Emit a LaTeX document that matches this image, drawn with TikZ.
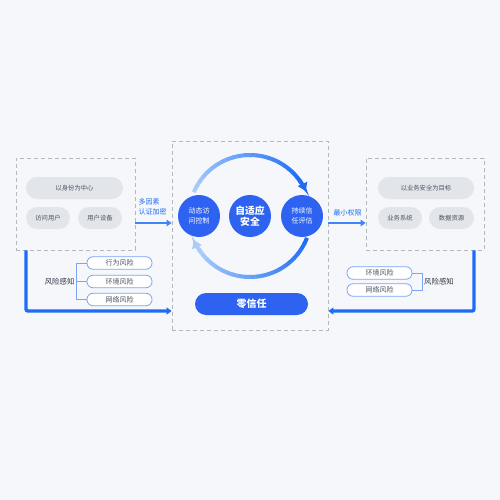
\documentclass[tikz,border=0pt]{standalone}
\usepackage{fontspec}
\setmainfont{Noto Sans CJK SC}
\usetikzlibrary{arrows.meta,calc}
\definecolor{cbg}{HTML}{F5F7FA}
\definecolor{cdash}{HTML}{B3B7C0}
\definecolor{cpill}{HTML}{E2E5EA}
\definecolor{cgrey}{HTML}{4C5260}
\definecolor{cdark}{HTML}{2F3542}
\definecolor{cblue}{HTML}{2D63F0}
\definecolor{cline}{HTML}{1E6CF5}
\definecolor{clight}{HTML}{A9CCFA}
\definecolor{crisk}{HTML}{7BA5F6}

\begin{document}
\begin{tikzpicture}[x=1pt,y=-1pt,
  zone/.style={draw=cdash,dash pattern=on 4pt off 3pt,line width=0.8pt,inner sep=0pt},
  pill/.style={fill=cpill,rounded corners=11pt,minimum height=22pt,inner sep=0pt,
    text=cgrey,font=\fontsize{6.3}{8}\selectfont},
  core/.style={circle,fill=cblue,minimum size=42pt,inner sep=0pt,text=white,align=center,
    font=\fontsize{7}{10}\selectfont},
  risk/.style={draw=crisk,line width=0.8pt,fill=white,rounded corners=6pt,minimum width=65pt,
    minimum height=12.5pt,inner sep=0pt,text=cgrey,font=\fontsize{7}{8}\selectfont},
  link/.style={line width=2.6pt,color=cline!75!clight,-{Triangle[length=5pt,width=6.5pt]}},
  feed/.style={line width=3.4pt,color=cline,rounded corners=2pt,-{Triangle[length=5pt,width=7pt]}},
  brk/.style={draw=crisk,line width=0.8pt},
  tag/.style={font=\fontsize{7}{10}\selectfont,align=left,inner sep=0pt}]

  % background
  \fill[cbg] (0,0) rectangle (500,500);

  % three zones
  \node[zone,minimum width=119pt,minimum height=92pt] (lbox) at (75.5,204) {};
  \node[zone,minimum width=156pt,minimum height=189pt] (cbox) at (250,235.5) {};
  \node[zone,minimum width=118pt,minimum height=92pt] (rbox) at (425,204) {};

  % left zone
  \node[pill,minimum width=97pt] (idc) at (74.5,188) {以身份为中心};
  \node[pill,minimum width=44pt] (usr) at (48,218) {访问用户};
  \node[pill,minimum width=44pt] (dev) at (100,218) {用户设备};

  % right zone
  \node[pill,minimum width=96pt] (goal) at (426,188) {以业务安全为目标};
  \node[pill,minimum width=44pt] (sys) at (400,218) {业务系统};
  \node[pill,minimum width=45pt] (data) at (451.5,218) {数据资源};

  % cycle
  \node[core] (acc) at (199,216) {动态访\\问控制};
  \node[core,font=\bfseries\fontsize{9.8}{10.5}\selectfont] (ada) at (250,216) {自适应\\安全};
  \node[core] (eva) at (302,216) {持续信\\任评估};
  \foreach \i in {0,...,21}{
    \pgfmathtruncatemacro{\p}{\i*100/21}
    \draw[line width=4pt,cline!\p!clight]
      ($(ada)+({-157+\i*5.6}:61)$) arc[start angle=-157+\i*5.6,end angle=-150.9+\i*5.6,radius=61];
    \draw[line width=4pt,clight!\p!cline]
      ($(ada)+({21+\i*5.7}:61)$) arc[start angle=21+\i*5.7,end angle=27.2+\i*5.7,radius=61];
  }
  \draw[line width=4pt,cline,-{Triangle[length=8pt,width=10pt]}]
    ($(ada)+(-36:61)$) arc[start angle=-36,end angle=-24,radius=61];
  \draw[line width=4pt,clight,-{Triangle[length=8pt,width=10pt]}]
    ($(ada)+(144:61)$) arc[start angle=144,end angle=157,radius=61];

  \node[pill,fill=cblue,minimum width=113pt,text=white,font=\bfseries\fontsize{10}{12}\selectfont]
    (zt) at (251.5,304) {零信任};

  % links into and out of the core
  \coordinate (lv) at (250,223);
  \draw[link] (lbox.east |- lv) -- (cbox.west |- lv);
  \node[tag,text=cline] (mfa) at (152.5,207) {多因素\\认证加密};
  \draw[link] (cbox.east |- lv) -- (rbox.west |- lv);
  \node[tag,text=cline] (pri) at (347.5,213) {最小权限};

  % risk feedback, left
  \coordinate (lturn) at (26,311);
  \draw[feed] (lbox.south -| lturn) -- (lturn) -- (lturn -| cbox.west);
  \node[risk] (rk1) at (119.5,263) {行为风险};
  \node[risk] (rk2) at (119.5,281.5) {环境风险};
  \node[risk] (rk3) at (119.5,299.5) {网络风险};
  \draw[brk] (rk1.west) -- ++(-10,0) |- (rk3.west);
  \draw[brk] (rk2.west) -- ++(-10,0) coordinate (lb);
  \node[tag,text=cdark,anchor=east,font=\fontsize{7.4}{9}\selectfont] (lsense) at ([xshift=-2pt]lb) {风险感知};

  % risk feedback, right
  \coordinate (rturn) at (474,311);
  \draw[feed] (rbox.south -| rturn) -- (rturn) -- (rturn -| cbox.east);
  \node[risk] (rr1) at (379.5,273) {环境风险};
  \node[risk] (rr2) at (379.5,290) {网络风险};
  \draw[brk] (rr1.east) -- ++(10,0) |- (rr2.east);
  \coordinate (rb) at (422,281.5);
  \node[tag,text=cdark,anchor=west,font=\fontsize{7.4}{9}\selectfont] (rsense) at ([xshift=2pt]rb) {风险感知};
\end{tikzpicture}
\end{document}
